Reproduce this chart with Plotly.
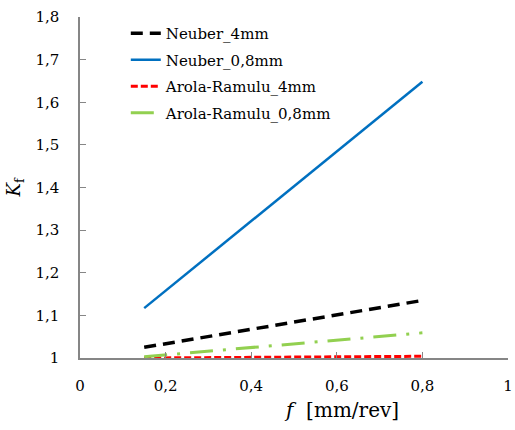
import plotly.graph_objects as go

# Feed rate f [mm/rev] and fatigue notch factor Kf for each model / notch radius
feed = [0.15, 0.4, 0.6, 0.8]
neuber_4mm = [1.025, 1.067, 1.101, 1.135]
neuber_08mm = [1.117, 1.322, 1.485, 1.648]
arola_4mm = [1.000, 1.002, 1.003, 1.004]
arola_08mm = [1.003, 1.024, 1.041, 1.059]

x_ticks = [0, 0.2, 0.4, 0.6, 0.8, 1]
y_ticks = [1, 1.1, 1.2, 1.3, 1.4, 1.5, 1.6, 1.7, 1.8]

series = [
    ("Neuber_4mm", neuber_4mm, "#000000", "12px,7px", 3.5),
    ("Neuber_0,8mm", neuber_08mm, "#0070C0", "solid", 2.5),
    ("Arola-Ramulu_4mm", arola_4mm, "#FF0000", "7px,3px", 3),
    ("Arola-Ramulu_0,8mm", arola_08mm, "#92D050", "23px,10px,3px,10px", 3),
]

SERIF = "DejaVu Serif"
BLACK = "#000000"

fig = go.Figure()
for name, vals, color, dash, width in series:
    fig.add_trace(go.Scatter(
        x=feed, y=vals, mode="lines", name=name, legendgroup=name,
        line=dict(color=color, dash=dash, width=width),
    ))

tick_font = dict(family=SERIF, size=15, color=BLACK)
fig.update_layout(
    width=515, height=430,
    margin=dict(l=80, r=7, t=17, b=72),
    plot_bgcolor="white", paper_bgcolor="white",
    separators=", ",
    font=dict(family=SERIF, color=BLACK),
    showlegend=True,
    legend=dict(
        x=0.107, y=1.0, xanchor="left", yanchor="top",
        bgcolor="rgba(0,0,0,0)", font=dict(family=SERIF, size=15, color=BLACK),
        traceorder="grouped", tracegroupgap=4, itemwidth=30,
    ),
    xaxis=dict(
        range=[0, 1], tickvals=x_ticks, showgrid=False, zeroline=False,
        showline=True, linecolor="#868686", linewidth=1.5,
        ticks="inside", ticklen=6, tickcolor="#868686",
        tickfont=tick_font, ticklabelstandoff=13, automargin=False,
    ),
    yaxis=dict(
        range=[1, 1.8], tickvals=y_ticks, showgrid=False, zeroline=False,
        showline=True, linecolor="#868686", linewidth=1.5,
        ticks="inside", ticklen=6, tickcolor="#868686",
        tickfont=tick_font, ticklabelstandoff=16, automargin=False,
        title=dict(text="<i>K</i><sub>f</sub>", font=dict(family=SERIF, size=18, color=BLACK), standoff=10),
    ),
    annotations=[dict(
        text="<i>f</i>  [mm/rev]", xref="paper", yref="paper",
        x=0.61, y=-0.152, xanchor="center", yanchor="middle", showarrow=False,
        font=dict(family=SERIF, size=20, color=BLACK),
    )],
)

fig.write_html("out.html")
